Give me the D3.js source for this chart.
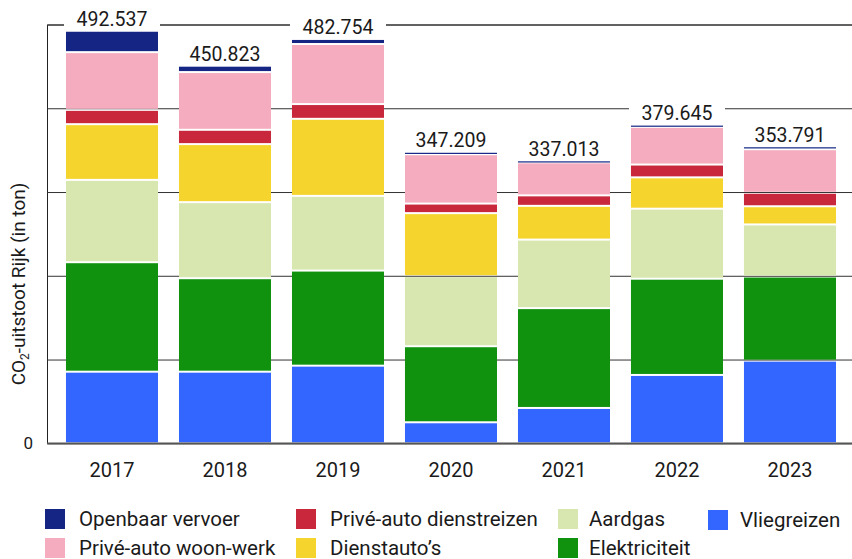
<!DOCTYPE html>
<html>
<head>
<meta charset="utf-8">
<script src="https://cdn.jsdelivr.net/npm/d3@7"></script>
<style>
  body { margin: 0; background: white; }
  text { font-family: Roboto, "Noto Sans", sans-serif; fill: #1a1a1a; }
</style>
</head>
<body>
<script>
// data (ton CO2)
var years = ["2017", "2018", "2019", "2020", "2021", "2022", "2023"];
var vliegreizen      = [85500, 85500, 92700, 25100, 42200, 81600, 98700];
var elektriciteit    = [130700, 111600, 113500, 90800, 119200, 114900, 100400];
var aardgas          = [98300, 90800, 89200, 83600, 81800, 83600, 62200];
var dienstautos      = [66500, 69300, 92000, 75300, 40300, 37400, 21700];
var priveDienst      = [17100, 17100, 17600, 11400, 12500, 15300, 16100];
var priveWoonWerk    = [68900, 68900, 71700, 58900, 39400, 45000, 52000];
var openbaarVervoer  = [25537, 7623, 6054, 2109, 1613, 1845, 2691];
var yTicks = [0, 100000, 200000, 300000, 400000, 500000];

// stack order bottom -> top
var keys = ["Vliegreizen", "Elektriciteit", "Aardgas", "Dienstauto’s", "Privé-auto dienstreizen", "Privé-auto woon-werk", "Openbaar vervoer"];
var seriesValues = [vliegreizen, elektriciteit, aardgas, dienstautos, priveDienst, priveWoonWerk, openbaarVervoer];
var colors = ["#3366ff", "#10920e", "#d8e6b0", "#f5d42d", "#c8273c", "#f4acbe", "#142584"];

var legendOrder = ["Openbaar vervoer", "Privé-auto woon-werk", "Privé-auto dienstreizen", "Dienstauto’s", "Aardgas", "Elektriciteit", "Vliegreizen"];

var width = 852, height = 559;
var margin = { top: 24.5, bottom: 116, left: 47, right: 0 };

var table = years.map(function(y, i) {
  var row = { year: y };
  keys.forEach(function(k, j) { row[k] = seriesValues[j][i]; });
  return row;
});

var nl = d3.formatLocale({ decimal: ",", thousands: ".", grouping: [3], currency: ["€", ""] });
var fmt = nl.format(",d");

var svg = d3.select("body").append("svg")
  .attr("width", width)
  .attr("height", height);

var xScale = d3.scaleBand()
  .domain(years)
  .range([margin.left, width - margin.right])
  .paddingInner(0.168)
  .paddingOuter(0.146)
  .align(0.545);

var yScale = d3.scaleLinear()
  .domain([0, 500000])
  .range([height - margin.bottom + 0.3, margin.top]);

// gridlines + y axis
var yAxis = svg.append("g")
  .attr("transform", "translate(" + margin.left + ",0)")
  .call(d3.axisLeft(yScale)
    .tickValues(yTicks)
    .tickSize(-(width - margin.left))
    .tickPadding(14)
    .tickFormat(function(d) { return d === 0 ? "0" : ""; }));
yAxis.selectAll(".tick line").attr("stroke", "#333");
yAxis.select(".domain").attr("stroke", "#222");
yAxis.selectAll("text").style("font-size", "17px").attr("fill", "#1a1a1a");

var stacked = d3.stack().keys(keys)(table);

// white boxes behind the total labels
var totals = table.map(function(d) { return d3.sum(keys, function(k) { return d[k]; }); });
svg.selectAll(".labelbg")
  .data(years)
  .enter()
  .append("rect")
  .attr("class", "labelbg")
  .attr("x", function(d) { return xScale(d) - 1; })
  .attr("y", function(d, i) { return yScale(totals[i]) - 27; })
  .attr("width", xScale.bandwidth() + 2)
  .attr("height", 27)
  .attr("fill", "white");

// bars (1px white gap on each side of a segment, thin ones keep 1px)
var layers = svg.selectAll(".layer")
  .data(stacked)
  .enter()
  .append("g")
  .attr("class", "layer")
  .attr("fill", function(d, i) { return colors[i]; });

layers.selectAll("rect")
  .data(function(d) { return d; })
  .enter()
  .append("rect")
  .attr("x", function(d) { return xScale(d.data.year) + 1; })
  .attr("y", function(d) {
    var h = yScale(d[0]) - yScale(d[1]);
    return h > 3 ? yScale(d[1]) + 1 : yScale(d[1]) + 0.3;
  })
  .attr("width", xScale.bandwidth() - 2)
  .attr("height", function(d) {
    var h = yScale(d[0]) - yScale(d[1]);
    return h > 3 ? h - 2 : 1.2;
  });

// x axis line
svg.append("line")
  .attr("x1", margin.left).attr("x2", width)
  .attr("y1", yScale(0)).attr("y2", yScale(0))
  .attr("stroke", "#555").attr("stroke-width", 1.5);

// year labels
svg.selectAll(".yearlabel")
  .data(years)
  .enter()
  .append("text")
  .attr("class", "yearlabel")
  .attr("x", function(d) { return xScale(d) + xScale.bandwidth() / 2; })
  .attr("y", 477)
  .attr("text-anchor", "middle")
  .style("font-size", "20px")
  .text(function(d) { return d; });

// totals
svg.selectAll(".total")
  .data(years)
  .enter()
  .append("text")
  .attr("class", "total")
  .attr("x", function(d) { return xScale(d) + xScale.bandwidth() / 2; })
  .attr("y", function(d, i) { return yScale(totals[i]) - 5; })
  .attr("text-anchor", "middle")
  .style("font-size", "19.5px")
  .text(function(d, i) { return fmt(totals[i]); });

// y title
var title = svg.append("text")
  .attr("transform", "translate(25," + 284 + ") rotate(-90)")
  .attr("text-anchor", "middle")
  .style("font-size", "19px");
title.append("tspan").text("CO");
title.append("tspan").text("2").style("font-size", "12px").attr("dy", 4);
title.append("tspan").text("-uitstoot Rijk (in ton)").attr("dy", -4);

// Handmade legend
var legX = [45, 296, 558, 708];
var legTextX = [34, 34, 31, 32];
var legY = [509, 538];
var legend = svg.selectAll(".legend")
  .data(legendOrder)
  .enter()
  .append("g")
  .attr("class", "legend")
  .attr("transform", function(d, i) {
    return "translate(" + legX[Math.floor(i / 2)] + "," + (legY[i % 2] + (i === 6 ? 1 : 0)) + ")";
  });
legend.append("rect")
  .attr("width", 20).attr("height", 20)
  .attr("fill", function(d) { return colors[keys.indexOf(d)]; });
legend.append("text")
  .attr("x", function(d, i) { return legTextX[Math.floor(i / 2)]; })
  .attr("y", 10)
  .attr("dominant-baseline", "central")
  .style("font-size", "20.5px")
  .text(function(d) { return d; });
</script>
</body>
</html>
